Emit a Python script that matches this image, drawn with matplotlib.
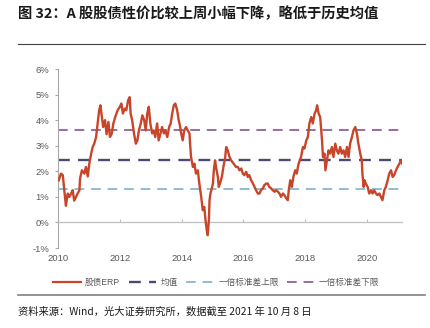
#!/usr/bin/env python3
"""
A-share equity/bond ERP chart with mean and +/- 1 std bands.
"""

import matplotlib
matplotlib.use("Agg")
import matplotlib.pyplot as plt
import matplotlib.ticker as ticker
from matplotlib.lines import Line2D

plt.rcParams['font.family'] = ['Liberation Sans', 'Noto Sans CJK SC', 'DejaVu Sans']

# ────────────────────────────────────────────────────────────────────────────
# Data (% units, x in fractional years)
# ────────────────────────────────────────────────────────────────────────────

years = [
    2010.01, 2010.08, 2010.14, 2010.19, 2010.24, 2010.30, 2010.35, 2010.41, 2010.46, 2010.51,
    2010.57, 2010.62, 2010.68, 2010.70, 2010.76, 2010.84, 2010.89, 2010.95, 2011.00, 2011.06,
    2011.11, 2011.16, 2011.22, 2011.27, 2011.32, 2011.36, 2011.41, 2011.45, 2011.51, 2011.56,
    2011.62, 2011.67, 2011.73, 2011.78, 2011.84, 2011.92, 2011.99, 2012.04, 2012.09, 2012.15,
    2012.20, 2012.26, 2012.31, 2012.34, 2012.39, 2012.45, 2012.51, 2012.56, 2012.61, 2012.67,
    2012.72, 2012.78, 2012.83, 2012.88, 2012.93, 2012.98, 2013.04, 2013.09, 2013.14, 2013.20,
    2013.25, 2013.31, 2013.36, 2013.42, 2013.47, 2013.53, 2013.59, 2013.64, 2013.69, 2013.74,
    2013.79, 2013.85, 2013.90, 2013.95, 2013.98, 2014.03, 2014.08, 2014.14, 2014.19, 2014.25,
    2014.27, 2014.30, 2014.36, 2014.41, 2014.46, 2014.52, 2014.57, 2014.63, 2014.68, 2014.73,
    2014.77, 2014.81, 2014.84, 2014.88, 2014.90, 2014.93, 2014.96, 2015.01, 2015.04, 2015.08,
    2015.11, 2015.17, 2015.20, 2015.24, 2015.30, 2015.35, 2015.41, 2015.44, 2015.49, 2015.55,
    2015.60, 2015.68, 2015.76, 2015.82, 2015.87, 2015.93, 2015.98, 2016.03, 2016.09, 2016.14,
    2016.19, 2016.25, 2016.31, 2016.36, 2016.41, 2016.47, 2016.52, 2016.57, 2016.63, 2016.68,
    2016.74, 2016.79, 2016.84, 2016.90, 2016.95, 2017.01, 2017.06, 2017.12, 2017.17, 2017.22,
    2017.28, 2017.33, 2017.39, 2017.44, 2017.47, 2017.52, 2017.57, 2017.62, 2017.68, 2017.73,
    2017.79, 2017.82, 2017.87, 2017.93, 2017.98, 2018.04, 2018.09, 2018.14, 2018.20, 2018.25,
    2018.31, 2018.36, 2018.39, 2018.44, 2018.49, 2018.55, 2018.58, 2018.63, 2018.66, 2018.71,
    2018.76, 2018.81, 2018.87, 2018.92, 2018.98, 2019.03, 2019.08, 2019.14, 2019.19, 2019.25,
    2019.30, 2019.36, 2019.41, 2019.46, 2019.52, 2019.57, 2019.63, 2019.68, 2019.73, 2019.79,
    2019.84, 2019.86, 2019.90, 2019.93, 2019.97, 2020.03, 2020.08, 2020.14, 2020.19, 2020.24,
    2020.30, 2020.35, 2020.41, 2020.46, 2020.51, 2020.57, 2020.62, 2020.68, 2020.73, 2020.79,
    2020.84, 2020.89, 2020.95, 2021.00, 2021.06, 2021.11, 2021.15,
]

erp = [
    1.65, 1.91, 1.85, 1.26, 0.65, 1.13, 1.00, 1.13, 1.26, 0.85,
    1.00, 1.13, 1.26, 1.72, 2.04, 1.91, 2.17, 1.80, 2.30, 2.69,
    2.95, 3.08, 3.34, 3.87, 4.39, 4.58, 4.12, 3.73, 4.00, 3.45,
    3.93, 3.34, 3.48, 3.87, 4.12, 4.39, 4.52, 4.65, 4.26, 4.45,
    4.39, 4.78, 4.90, 4.26, 4.00, 3.48, 3.08, 3.21, 3.60, 3.87,
    4.19, 4.00, 3.60, 4.26, 4.52, 3.87, 3.48, 3.60, 3.34, 3.87,
    3.21, 3.48, 3.73, 3.48, 3.60, 3.34, 3.73, 3.87, 4.26, 4.58,
    4.65, 4.39, 4.00, 3.73, 3.48, 3.21, 3.60, 3.73, 3.60, 3.48,
    3.08, 2.56, 2.17, 2.30, 1.91, 2.04, 1.52, 1.00, 0.48, 0.61,
    0.09, -0.30, -0.50, 0.09, 0.87, 1.13, 1.26, 1.52, 2.04, 2.43,
    2.17, 1.78, 1.39, 1.52, 1.78, 2.17, 2.56, 2.95, 2.82, 2.56,
    2.43, 2.30, 2.17, 2.17, 2.04, 2.11, 1.91, 1.85, 1.98, 1.78,
    1.85, 1.65, 1.52, 1.39, 1.26, 1.13, 1.13, 1.26, 1.33, 1.46,
    1.52, 1.52, 1.39, 1.33, 1.26, 1.20, 1.26, 1.20, 1.13, 1.00,
    1.13, 1.07, 0.94, 0.87, 1.26, 1.65, 1.39, 1.78, 2.04, 1.91,
    2.30, 2.40, 2.56, 2.95, 2.89, 3.21, 3.34, 3.87, 4.12, 3.87,
    4.26, 4.39, 4.58, 4.26, 4.12, 3.21, 2.56, 2.69, 2.04, 2.43,
    2.82, 2.69, 2.95, 2.56, 3.08, 2.82, 2.69, 2.95, 2.69, 2.82,
    2.56, 2.95, 2.56, 3.08, 3.34, 3.60, 3.73, 3.48, 3.08, 2.69,
    2.43, 1.91, 1.39, 1.65, 1.52, 1.39, 1.13, 1.26, 1.13, 1.26,
    1.13, 1.07, 1.13, 1.00, 0.87, 1.26, 1.39, 1.65, 1.91, 2.04,
    1.78, 1.85, 2.04, 2.17, 2.30, 2.43, 2.30,
]

ERP_MEAN  = 2.46   # 均值
STD_UPPER = 1.30   # 一倍标准差上限 (as labelled in the source)
STD_LOWER = 3.60   # 一倍标准差下限 (as labelled in the source)

year_ticks = [2010, 2012, 2014, 2016, 2018, 2020]
pct_ticks = [-1, 0, 1, 2, 3, 4, 5, 6]

labels = ['股债ERP', '均值', '一倍标准差上限', '一倍标准差下限']

C_ERP   = '#C9452A'
C_MEAN  = '#4A4A73'
C_UPPER = '#8FBDD3'
C_LOWER = '#9A6AA4'
GRAY    = '#A6A6A6'
TXT     = '#595959'

# ────────────────────────────────────────────────────────────────────────────
# Figure
# ────────────────────────────────────────────────────────────────────────────

fig = plt.figure(figsize=(4.30, 3.28), dpi=100)
ax = fig.add_axes([0.136, 0.2439, 0.800, 0.5457])

dash = (5, 3.5)
ax.axhline(STD_LOWER, color=C_LOWER, lw=1.4, dashes=dash, zorder=2)
ax.axhline(ERP_MEAN, color=C_MEAN, lw=1.7, dashes=dash, zorder=2)
ax.axhline(STD_UPPER, color=C_UPPER, lw=1.4, dashes=dash, zorder=2)
ax.plot(years, erp, color=C_ERP, lw=1.7, zorder=3, solid_joinstyle='round')

ax.set_xlim(2010, 2021.16)
ax.set_ylim(-1, 6)

for s in ('top', 'right'):
    ax.spines[s].set_visible(False)
ax.spines['left'].set_color(GRAY)
ax.spines['left'].set_linewidth(0.8)
ax.spines['bottom'].set_position(('data', 0))
ax.spines['bottom'].set_color('#BFBFBF')
ax.spines['bottom'].set_linewidth(0.9)

ax.set_yticks(pct_ticks)
ax.yaxis.set_major_formatter(ticker.FuncFormatter(lambda v, p: f'{v:.0f}%'))
ax.set_xticks(year_ticks)
ax.set_xticklabels([str(y) for y in year_ticks])

ax.tick_params(axis='y', direction='out', length=2.5, width=0.8, color=GRAY,
               labelsize=6.8, labelcolor=TXT, pad=4)
ax.tick_params(axis='x', direction='in', length=2.5, width=0.8, color='#BFBFBF',
               labelsize=6.8, labelcolor=TXT, pad=23)

# ────────────────────────────────────────────────────────────────────────────
# Legend, title, source
# ────────────────────────────────────────────────────────────────────────────

handles = [
    Line2D([], [], color=C_ERP, lw=1.6),
    Line2D([], [], color=C_MEAN, lw=1.7, dashes=dash),
    Line2D([], [], color=C_UPPER, lw=1.4, dashes=dash),
    Line2D([], [], color=C_LOWER, lw=1.4, dashes=dash),
]
leg = fig.legend(handles, labels, loc='center', bbox_to_anchor=(0.503, 0.140),
                 ncol=4, frameon=False, fontsize=6.2, handlelength=3.2,
                 handletextpad=0.5, columnspacing=1.0)
for t in leg.get_texts():
    t.set_color(TXT)

fig.text(0.042, 0.957, '图 32：A 股股债性价比较上周小幅下降，略低于历史均值',
         fontsize=10.3, fontweight='bold', family=['Noto Sans CJK SC'],
         ha='left', va='center', color='#1a1a1a')
fig.add_artist(Line2D([0.042, 0.988], [0.866, 0.866], transform=fig.transFigure,
                      color='#404040', lw=0.8))
fig.add_artist(Line2D([0.042, 0.988], [0.101, 0.101], transform=fig.transFigure,
                      color='#808080', lw=1.2))
fig.text(0.042, 0.049, '资料来源：Wind，光大证券研究所，数据截至 2021 年 10 月 8 日',
         fontsize=7.4, family=['Noto Sans CJK SC'], ha='left', va='center',
         color='#1a1a1a')

fig.savefig('out.png', dpi=100)
